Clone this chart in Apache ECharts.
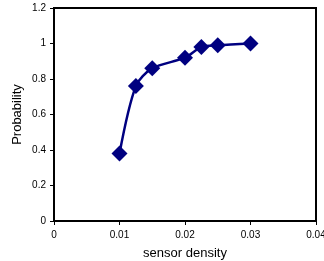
<!DOCTYPE html>
<html><head><meta charset="utf-8">
<script src="https://cdn.jsdelivr.net/npm/echarts@6/dist/echarts.min.js"></script>
<style>html,body{margin:0;padding:0;background:#fff}#c{width:324px;height:261px}</style>
</head><body><div id="c"></div>
<script>
const densities = [0.01, 0.0125, 0.015, 0.02, 0.0225, 0.025, 0.03];
const probabilities = [0.38, 0.76, 0.86, 0.92, 0.98, 0.99, 1.0];
const xTicks = [0, 0.01, 0.02, 0.03, 0.04];
const yTicks = [0, 0.2, 0.4, 0.6, 0.8, 1, 1.2];

const chart = echarts.init(document.getElementById('c'), null, {renderer: 'canvas'});
chart.setOption({
  animation: false,
  grid: {left: 54, right: 8, top: 8, bottom: 40, outerBoundsMode: 'none', containLabel: false,
    show: true, borderColor: '#000', borderWidth: 2, backgroundColor: 'transparent'},
  xAxis: {
    type: 'value', min: xTicks[0], max: xTicks[xTicks.length-1], interval: 0.01,
    name: 'sensor density', nameLocation: 'middle', nameGap: 26,
    nameTextStyle: {fontFamily: 'Liberation Sans', fontSize: 13, color: '#000'},
    axisLine: {show: true, lineStyle: {color: '#000', width: 2}},
    axisTick: {show: true, length: 4, lineStyle: {color: '#000'}},
    axisLabel: {fontFamily: 'Liberation Sans', fontSize: 10, color: '#000', margin: 9,
      formatter: v => String(+v.toFixed(2))},
    splitLine: {show: false}
  },
  yAxis: {
    type: 'value', min: yTicks[0], max: yTicks[yTicks.length-1], interval: 0.2,
    name: 'Probability', nameLocation: 'middle', nameGap: 30, nameMoveOverlap: false,
    nameTextStyle: {fontFamily: 'Liberation Sans', fontSize: 13, color: '#000'},
    axisLine: {show: true, lineStyle: {color: '#000', width: 2}},
    axisTick: {show: true, length: 4, lineStyle: {color: '#000'}},
    axisLabel: {fontFamily: 'Liberation Sans', fontSize: 10, color: '#000', margin: 8,
      formatter: v => String(+v.toFixed(1))},
    splitLine: {show: false}
  },
  series: [{
    type: 'line',
    data: densities.map((d, i) => [d, probabilities[i]]),
    smooth: 0.3,
    symbol: 'diamond', symbolSize: 16,
    lineStyle: {color: '#000080', width: 2.5},
    itemStyle: {color: '#000080'}
  }]
});
</script></body></html>
